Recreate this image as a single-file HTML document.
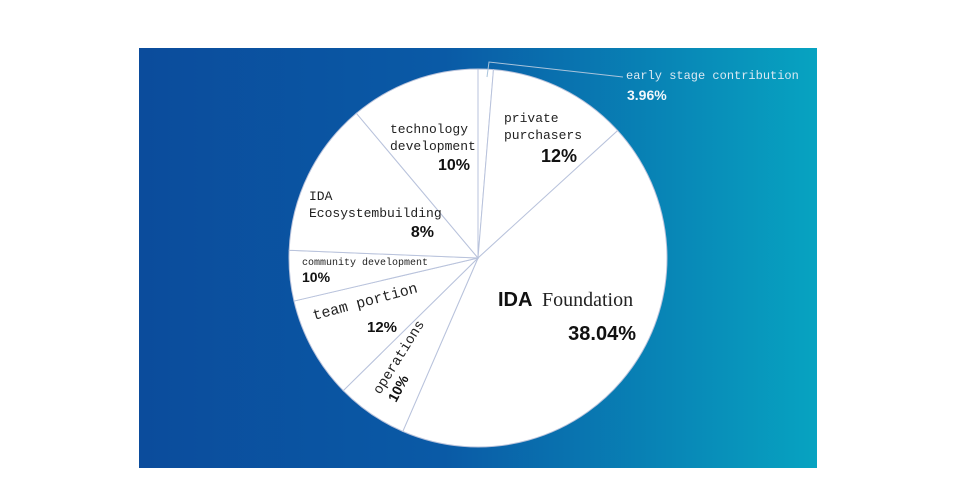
<!DOCTYPE html>
<html><head><meta charset="utf-8"><style>
html,body{margin:0;padding:0;background:#fff;width:960px;height:503px;overflow:hidden}
svg{display:block}
.lb{font-family:"Liberation Mono",monospace;fill:#222}
.pc{font-family:"Liberation Sans",sans-serif;font-weight:bold;fill:#111}
</style></head><body>
<svg width="960" height="503" viewBox="0 0 960 503">
<defs>
<linearGradient id="bg" x1="0" y1="0" x2="1" y2="0">
<stop offset="0" stop-color="#0b4c9c"/>
<stop offset="0.45" stop-color="#0a5aa6"/>
<stop offset="1" stop-color="#07a3c1"/>
</linearGradient>
</defs>
<rect x="139" y="48" width="678" height="420" fill="url(#bg)"/>
<g id="pie"></g>
<polyline points="487,77 489,62 623,77" fill="none" stroke="#a9c4dc" stroke-width="1"/>
<g id="labels">
<text x="626" y="79" font-size="12" font-family="Liberation Mono,monospace" fill="#dbe9f2">early stage contribution</text>
<text x="627" y="100" font-size="14" class="pc" style="fill:#f2f7fb">3.96%</text>
<text x="504" y="122" font-size="13" class="lb">private</text>
<text x="504" y="139" font-size="13" class="lb">purchasers</text>
<text x="577" y="162" font-size="18" class="pc" text-anchor="end">12%</text>
<text x="390" y="133" font-size="13" class="lb">technology</text>
<text x="390" y="150" font-size="13" class="lb">development</text>
<text x="470" y="170" font-size="16" class="pc" text-anchor="end">10%</text>
<text x="309" y="200" font-size="13" class="lb">IDA</text>
<text x="309" y="217" font-size="13" class="lb">Ecosystembuilding</text>
<text x="434" y="237" font-size="16" class="pc" text-anchor="end">8%</text>
<text x="302" y="265" font-size="10" class="lb">community development</text>
<text x="302" y="282" font-size="14" class="pc">10%</text>
<text x="0" y="0" font-size="15" class="lb" transform="translate(314,320) rotate(-15)">team portion</text>
<text x="367" y="332" font-size="15" class="pc">12%</text>
<text x="0" y="0" font-size="14" class="lb" transform="translate(380,395) rotate(-58)">operations</text>
<text x="0" y="0" font-size="14" class="pc" transform="translate(396,403) rotate(-62)">10%</text>
<text x="498" y="306" font-size="20" class="pc">IDA</text>
<text x="542" y="306" font-size="20" font-family="Liberation Serif,serif" fill="#222">Foundation</text>
<text x="636" y="340" font-size="20" class="pc" text-anchor="end">38.04%</text>
</g>
</svg>
<script>
// Visible slice sizes (share of the circle, %)
const categories = ["early stage contribution","private purchasers","IDA Foundation","operations","team portion","community development","IDA Ecosystembuilding","technology development"];
const shares = [1.3, 11.9, 43.2, 6.1, 8.7, 4.3, 13.2, 11.1];
const printedValues = ["3.96%","12%","38.04%","10%","12%","10%","8%","10%"];
const cx = 478, cy = 258, r = 189;
const total = shares.reduce((a,b)=>a+b,0);
const g = document.getElementById('pie');
const NS = 'http://www.w3.org/2000/svg';
function angleOf(v){ return v/total*2*Math.PI; }
let a = -Math.PI/2;
shares.forEach((v,i)=>{
  const a2 = a + angleOf(v);
  const x1 = cx + r*Math.cos(a), y1 = cy + r*Math.sin(a);
  const x2 = cx + r*Math.cos(a2), y2 = cy + r*Math.sin(a2);
  const large = (a2-a) > Math.PI ? 1 : 0;
  const p = document.createElementNS(NS,'path');
  p.setAttribute('d',`M${cx},${cy} L${x1},${y1} A${r},${r} 0 ${large} 1 ${x2},${y2} Z`);
  p.setAttribute('fill','#ffffff');
  p.setAttribute('stroke','#b9c3dc');
  p.setAttribute('stroke-width','1');
  
  
  g.appendChild(p);
  a = a2;
});
</script>
</body></html>
